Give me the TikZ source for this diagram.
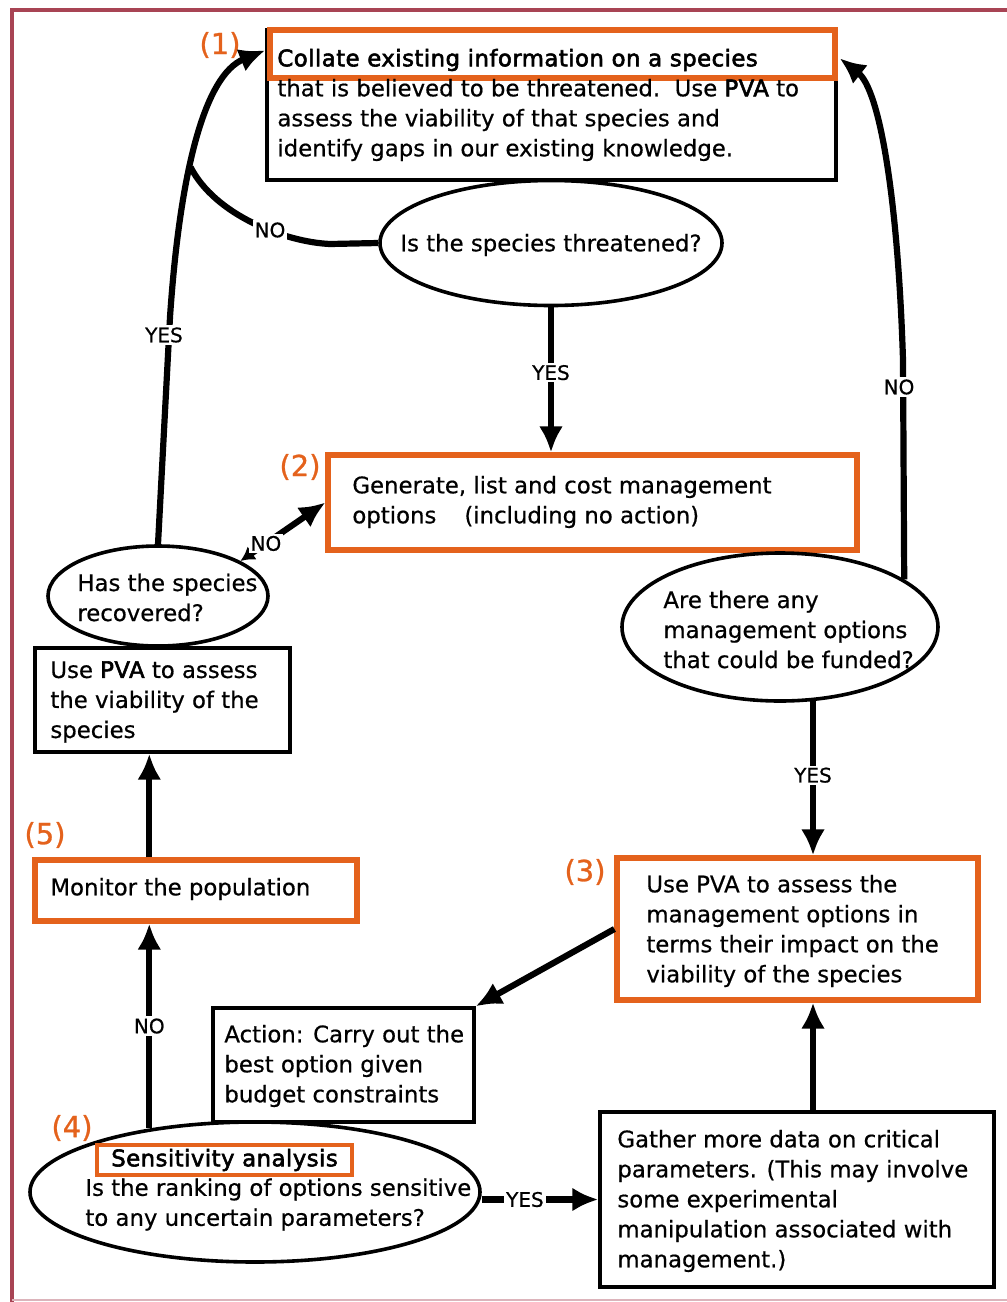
\documentclass[tikz,border=0pt]{standalone}
\usepackage{fontspec}
\setmainfont[FakeBold=0.6]{DejaVu Sans}
\newfontfamily\bfake[FakeBold=2.5,LetterSpace=2]{DejaVu Sans}
\newfontfamily\numfont[FakeBold=1]{DejaVu Sans}
\usetikzlibrary{arrows.meta,shapes.geometric,calc}
\definecolor{orng}{RGB}{228,98,28}
\definecolor{frm}{RGB}{168,68,84}
\newcommand\mytxt{\fontsize{11.4}{15}\selectfont}
\newcommand\mylbl{\fontsize{10}{12}\selectfont}
\newcommand\mynum{\numfont\fontsize{14.5}{16}\selectfont}
\begin{document}
\begin{tikzpicture}[x=0.5pt,y=-0.5pt,
 box/.style={draw=black, line width=1.7pt, inner sep=0pt},
 obox/.style={draw=orng, line width=2.6pt, inner sep=0pt},
 ell/.style={draw=black, ellipse, line width=1.8pt, inner sep=0pt},
 txt/.style={align=left, font=\mytxt, inner sep=0pt, anchor=west},
 thk/.style={line width=3.1pt},
 arr/.style={thk, -{Latex[length=13pt,width=12pt]}},
 dblarr/.style={thk, {Latex[length=7pt,width=8pt]}-{Latex[length=13pt,width=12pt]}},
 lab/.style={fill=white, inner sep=1pt, font=\mylbl},
 num/.style={text=orng, font=\mynum, inner sep=0pt},
]
\useasboundingbox (0,0) rectangle (1007,1302);
\draw[frm, line width=2pt] (1007,10) -- (12,10) -- (12,1302);
\draw[frm!40, line width=0.8pt] (12,1300) -- (1007,1300);

% box 1
\node[box, minimum width=284.5pt, minimum height=75pt] (b1) at (551.5,105) {};
\node[obox, minimum width=282.5pt, minimum height=24pt] (h1) at (552.5,54) {};
\node[txt] (t1) at (277,105) {{\bfake Collate existing information on a species}\\
that is believed to be threatened.\ \ Use {\bfake PVA} to\\
assess the viability of that species and\\
identify gaps in our existing knowledge.};
\node[num] (n1) at (220,45) {(1)};

% ellipse 1
\node[ell, minimum width=171pt, minimum height=62.5pt] (e1) at (551,243) {};
\node[txt, anchor=center] (te1) at (551,245) {Is the species threatened?};

% box 2
\node[obox, minimum width=264.5pt, minimum height=47.5pt] (b2) at (592.5,502.5) {};
\node[txt] (t2) at (352,502) {Generate, list and cost management\\
options\hspace{14pt}(including no action)};
\node[num] (n2) at (300,467) {(2)};

% ellipse 2
\node[ell, minimum width=110pt, minimum height=50pt] (e2) at (158,596) {};
\node[txt] (te2) at (77,597.5) {Has the species\\recovered?};

% box 4 (PVA)
\node[box, minimum width=127.5pt, minimum height=52pt] (b4) at (162.5,700) {};
\node[txt] (t4) at (50,702) {Use {\bfake PVA} to assess\\the viability of the\\species};

% box 5
\node[obox, minimum width=161pt, minimum height=30.5pt] (b5) at (196,890.5) {};
\node[txt] (t5) at (50,889) {Monitor the population};
\node[num] (n5) at (45,835) {(5)};

% ellipse 3
\node[ell, minimum width=158pt, minimum height=74pt] (e3) at (780,627) {};
\node[txt] (te3) at (663,629.5) {Are there any\\management options\\that could be funded?};

% box 3
\node[obox, minimum width=180.5pt, minimum height=71pt] (b3) at (797.5,929) {};
\node[txt] (t3) at (646,931) {Use PVA to assess the\\management options in\\terms their impact on the\\viability of the species};
\node[num] (n3) at (585,872) {(3)};

% action box
\node[box, minimum width=130.5pt, minimum height=57pt] (bA) at (343.5,1065) {};
\node[txt] (tA) at (224,1066) {Action: Carry out the\\best option given\\budget constraints};

% ellipse 4
\node[ell, minimum width=225pt, minimum height=70pt] (e4) at (255,1192) {};
\node[draw=orng, line width=1.8pt, minimum width=127.5pt, minimum height=15pt, inner sep=0pt, font=\mytxt] (h4) at (224.5,1160) {{\bfake Sensitivity analysis}};
\node[txt] (te4) at (85,1204.5) {Is the ranking of options sensitive\\to any uncertain parameters?};
\node[num] (n4) at (72,1128) {(4)};

% gather box
\node[box, minimum width=197pt, minimum height=87.5pt] (bG) at (797,1199.5) {};
\node[txt] (tG) at (617,1201) {Gather more data on critical\\parameters. (This may involve\\some experimental\\manipulation associated with\\management.)};

% connectors
\coordinate (j1) at (190.5,167);
\draw[arr] (e2.north) -- (170,317) .. controls (180,170) and (205,75) .. ($(b1.north west)+(0,22)$);
\node[lab] (y1) at (164,335) {YES};
\draw[thk] (e1.west) -- (330,244) .. controls (285,242) and (215,215) .. (j1);
\node[lab] (no1) at (270,230) {NO};
\draw[arr] (e1.south) -- node[lab, pos=0.45] (y2) {YES} (b2.north -| e1.south);
\draw[dblarr] (e2.23) -- node[lab, pos=0.3] (no2) {NO} (b2.west);
\draw[arr] (e3.21) -- (903,360) .. controls (898,200) and (880,90) .. ($(b1.north east)+(2,30)$);
\node[lab] (no3) at (899,387) {NO};
\draw[arr] (e3.-66) -- node[lab, pos=0.48] (y3) {YES} (e3.-66 |- b3.north);
\draw[arr] (b3.west) -- (bA.north east);
\draw[arr] (bG.north -| e3.-66) -- (b3.south -| e3.-66);
\draw[arr] (e4.east |- bG.west) -- node[lab, pos=0.37] (y4) {YES} (bG.west);
\draw[arr] (e4.149) -- node[lab, pos=0.5] (no4) {NO} (b5.south -| e4.149);
\draw[arr] (b5.north -| e4.149) -- (b4.south -| e4.149);
\end{tikzpicture}
\end{document}
